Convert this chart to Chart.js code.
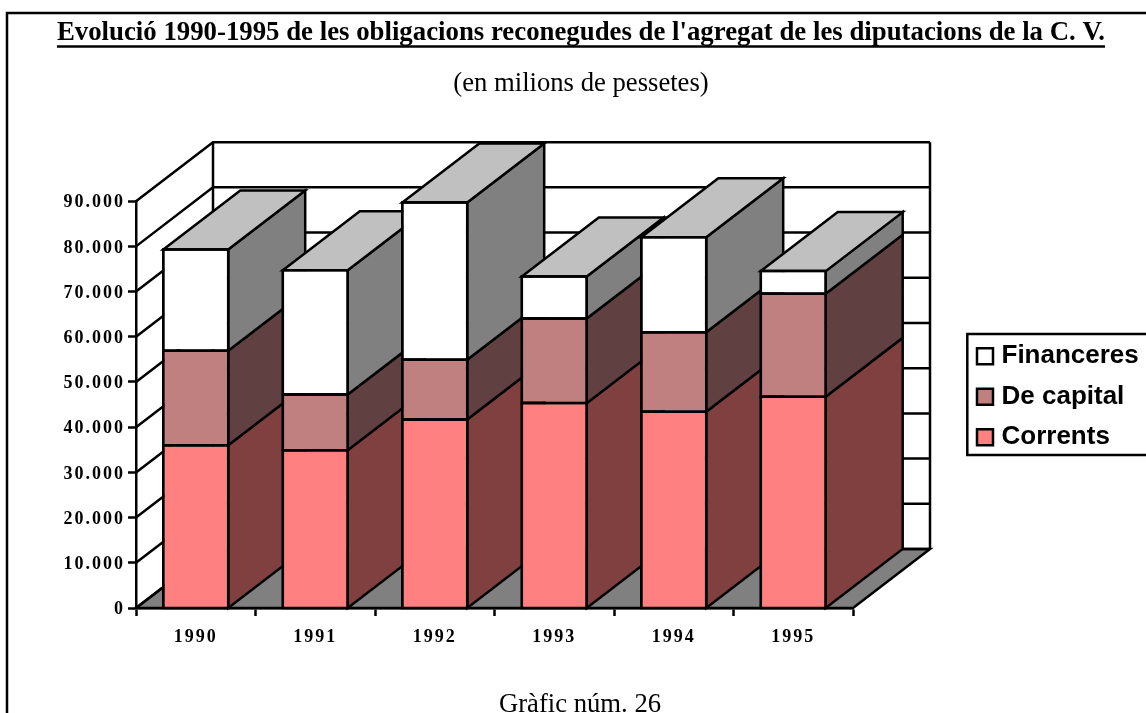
<!DOCTYPE html>
<html lang="ca">
<head>
<meta charset="utf-8">
<title>Evolució 1990-1995</title>
<script src="https://cdn.jsdelivr.net/npm/chart.js@4"></script>
<style>
html,body{margin:0;padding:0;background:#fff;overflow:hidden;width:1146px;height:713px}
canvas{display:block}
</style>
</head>
<body>
<canvas id="c" width="1162" height="713"></canvas>
<script>
const categories = ['1990','1991','1992','1993','1994','1995'];
const corrents   = [36300,35200,42000,45600,43700,47000];
const deCapital  = [20900,12300,13200,18700,17600,22800];
const financeres = [22400,27500,34800, 9300,21000, 5000];
const titleText = "Evolució 1990-1995 de les obligacions reconegudes de l'agregat de les diputacions de la C. V.";
const subtitleText = "(en milions de pessetes)";
const captionText = "Gràfic núm. 26";

const DEPTH_X = 77, DEPTH_Y = 59, LINE = 2.5;
const SERIF = "'Liberation Serif','Times New Roman',serif";
const SANS = "'Liberation Sans',Arial,sans-serif";
const sideColors = ['#804040','#604040','#808080'];
const topColor = '#C0C0C0';
const RIGHT_GUTTER = 309;

function poly(ctx, pts, fill){
  ctx.beginPath();
  pts.forEach((p,i)=> i ? ctx.lineTo(p[0],p[1]) : ctx.moveTo(p[0],p[1]));
  ctx.closePath();
  if(fill){ctx.fillStyle=fill;ctx.fill();}
  ctx.stroke();
}
function spaced(scale){
  if(scale._spaced) return;
  scale._spaced = true;
  const orig = scale.drawLabels.bind(scale);
  scale.drawLabels = function(a){
    const ctx = scale.ctx; ctx.save(); ctx.letterSpacing='2px'; orig(a); ctx.restore();
  };
}
function edges(el, i, y){
  return {
    xr: el.x+el.width/2-LINE/2,
    xl: el.x-el.width/2+LINE/2,
    yt: el.y+LINE/2,
    yBot: i===0 ? y.bottom : el.base+LINE/2
  };
}

const depthPlugin = {
  id:'depth',
  beforeLayout(chart){
    const lg = chart.legend;
    if(lg && !lg._patched){
      lg._patched = true;
      const f = lg.fit;
      lg.fit = function(){ f.call(this); this.width = RIGHT_GUTTER; };
    }
  },
  beforeDraw(chart){
    const ctx = chart.ctx, lg = chart.legend;
    const w = lg.width, h = lg.height;
    lg.left = 967; lg.top = 328.7; lg.right = lg.left+w; lg.bottom = lg.top+h;
    lg.adjustHitBoxes && lg.adjustHitBoxes();
    ctx.save();
    ctx.strokeStyle='#000'; ctx.lineWidth=LINE;
    ctx.strokeRect(7,13,chart.width-14,chart.height+20);
    ctx.strokeRect(967.3,334,chart.width,121);
    ctx.font = "bold "+chart.options.plugins.title.font.size+"px "+SERIF;
    const tw = ctx.measureText(titleText).width, cx = chart.width/2;
    ctx.beginPath(); ctx.moveTo(cx-tw/2,46.5); ctx.lineTo(cx+tw/2,46.5); ctx.stroke();
    ctx.font = "26.67px "+SERIF; ctx.fillStyle='#000'; ctx.textAlign='center'; ctx.textBaseline='alphabetic';
    ctx.fillText(captionText,580,712);
    ctx.restore();
  },
  beforeDatasetsDraw(chart){
    const ctx = chart.ctx, y = chart.scales.y, x = chart.scales.x;
    const L = x.left, R = x.right, B = y.bottom, T = y.top;
    ctx.save();
    ctx.strokeStyle='#000'; ctx.lineWidth=LINE; ctx.lineJoin='miter';
    poly(ctx,[[L,B],[R,B],[R+DEPTH_X,B-DEPTH_Y],[L+DEPTH_X,B-DEPTH_Y]],'#808080');
    y.ticks.forEach(t=>{
      const py = y.getPixelForValue(t.value);
      ctx.beginPath(); ctx.moveTo(L,py); ctx.lineTo(L+DEPTH_X,py-DEPTH_Y); ctx.lineTo(R+DEPTH_X,py-DEPTH_Y); ctx.stroke();
    });
    ctx.beginPath();
    ctx.moveTo(L+DEPTH_X,T-DEPTH_Y); ctx.lineTo(L+DEPTH_X,B-DEPTH_Y);
    ctx.moveTo(R+DEPTH_X,T-DEPTH_Y); ctx.lineTo(R+DEPTH_X,B-DEPTH_Y);
    ctx.stroke();
    const n = categories.length, metas = chart.data.datasets.map((d,i)=>chart.getDatasetMeta(i));
    for(let j=0;j<n;j++){
      metas.forEach((m,i)=>{
        const {xr,xl,yt,yBot} = edges(m.data[j],i,y);
        poly(ctx,[[xr,yBot],[xr,yt],[xr+DEPTH_X,yt-DEPTH_Y],[xr+DEPTH_X,yBot-DEPTH_Y]],sideColors[i]);
        if(i===metas.length-1){
          poly(ctx,[[xl,yt],[xr,yt],[xr+DEPTH_X,yt-DEPTH_Y],[xl+DEPTH_X,yt-DEPTH_Y]],topColor);
        }
      });
    }
    ctx.restore();
  },
  afterDatasetsDraw(chart){
    const ctx = chart.ctx, y = chart.scales.y;
    ctx.save();
    ctx.strokeStyle='#000'; ctx.lineWidth=LINE;
    chart.data.datasets.forEach((d,i)=>{
      chart.getDatasetMeta(i).data.forEach(el=>{
        const {xr,xl,yt,yBot} = edges(el,i,y);
        poly(ctx,[[xl,yt],[xr,yt],[xr,yBot],[xl,yBot]]);
      });
    });
    ctx.restore();
  }
};

new Chart(document.getElementById('c'),{
  type:'bar',
  data:{
    labels:categories,
    datasets:[
      {label:'Corrents',data:corrents,backgroundColor:'#FF8080'},
      {label:'De capital',data:deCapital,backgroundColor:'#C08080'},
      {label:'Financeres',data:financeres,backgroundColor:'#FFFFFF'}
    ].map(d=>Object.assign(d,{borderColor:'#000',borderWidth:LINE,borderSkipped:'bottom',
      barPercentage:0.564,categoryPercentage:1}))
  },
  options:{
    responsive:false,animation:false,
    layout:{padding:0},
    plugins:{
      title:{display:true,text:titleText,color:'#000',font:{family:SERIF,size:26.8,weight:'bold',lineHeight:1.2},padding:{top:17,bottom:18.5}},
      subtitle:{display:true,text:subtitleText,color:'#000',font:{family:SERIF,size:26.67,weight:'normal',lineHeight:1.2},padding:{top:0,bottom:101.5}},
      legend:{display:true,position:'right',fullSize:false,align:'start',reverse:true,
        labels:{usePointStyle:true,pointStyle:'rect',boxWidth:7,boxHeight:16,padding:14.5,color:'#000',font:{family:SANS,size:26,weight:'bold'}}},
      tooltip:{enabled:false}
    },
    scales:{
      x:{stacked:true,
        afterFit(s){s.height=105;},
        afterUpdate:spaced,
        border:{display:true,color:'#000',width:LINE},
        grid:{drawOnChartArea:false,tickLength:8,tickColor:'#000',tickWidth:LINE,color:'#000'},
        ticks:{color:'#000',padding:11,maxRotation:0,font:{family:SERIF,size:18,weight:'bold'}}
      },
      y:{stacked:true,min:0,max:90000,
        afterFit(s){s.width=136;},
        afterUpdate:spaced,
        border:{display:true,color:'#000',width:LINE},
        grid:{drawOnChartArea:false,tickLength:8,tickColor:'#000',tickWidth:LINE,color:'#000'},
        ticks:{stepSize:10000,color:'#000',padding:3,labelOffset:1.5,font:{family:SERIF,size:18,weight:'bold'},
          callback:v=>String(v).replace(/\B(?=(\d{3})+$)/g,'.')}
      }
    }
  },
  plugins:[depthPlugin]
});
</script>
</body>
</html>
